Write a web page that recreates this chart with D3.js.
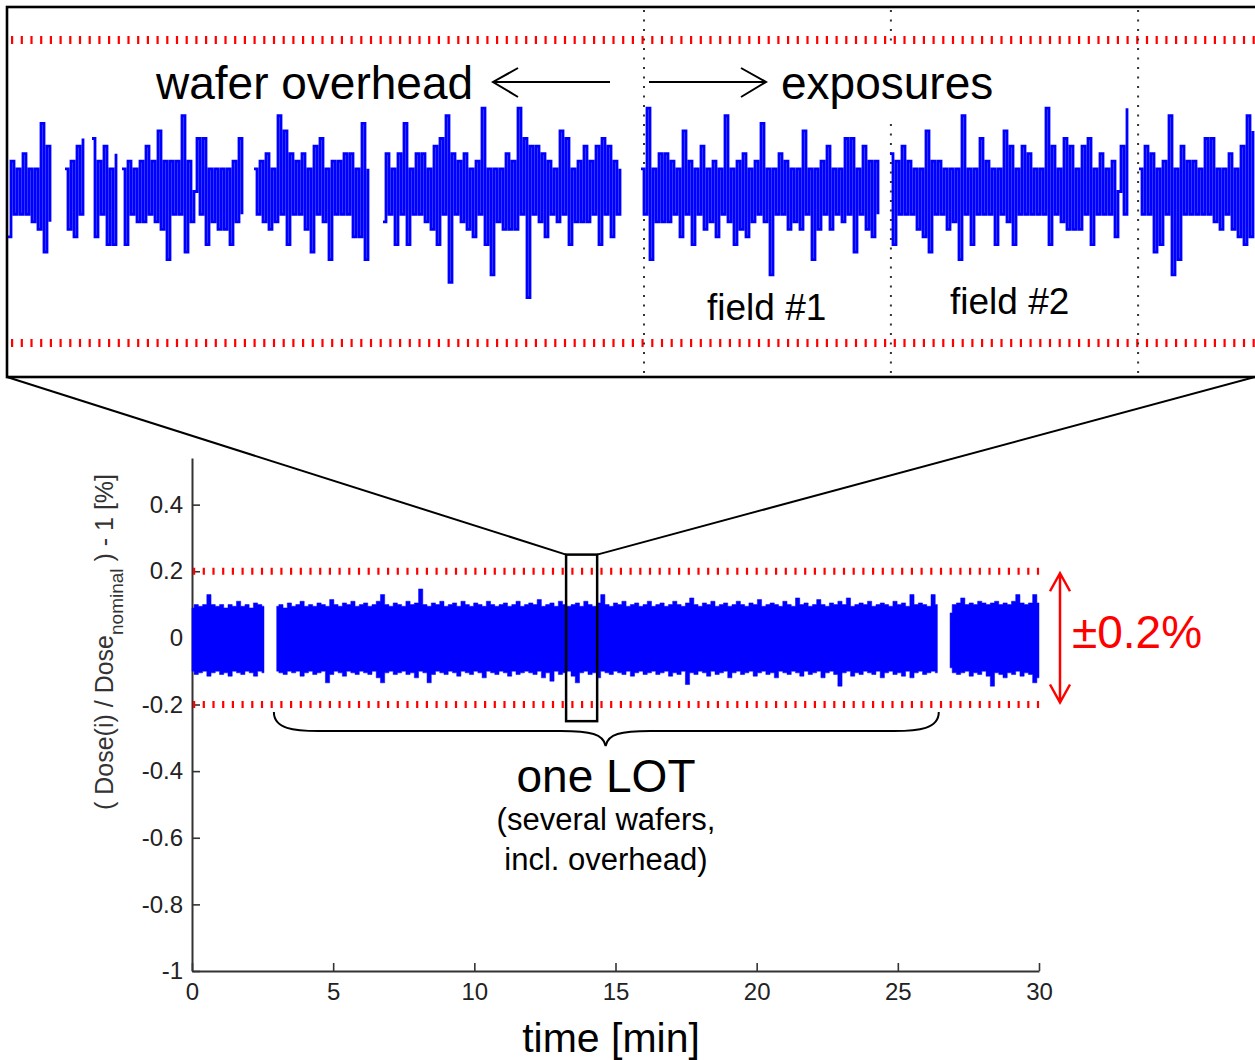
<!DOCTYPE html>
<html><head><meta charset="utf-8">
<script src="https://cdn.jsdelivr.net/npm/d3@7"></script>
<style>body{margin:0;background:#fff} svg{display:block} text{font-family:"Liberation Sans",Arial,Helvetica,sans-serif}</style>
</head><body>
<svg id="chart" width="1255" height="1060"></svg>
<script>
// ---------------- DATA ----------------
// Bottom plot: time axis (min) and dose deviation (%)
const xTicks = [0, 5, 10, 15, 20, 25, 30];
const xTickLabels = ["0", "5", "10", "15", "20", "25", "30"];
const yTicks = [-1, -0.8, -0.6, -0.4, -0.2, 0, 0.2, 0.4];
const yTickLabels = ["-1", "-0.8", "-0.6", "-0.4", "-0.2", "0", "0.2", "0.4"];
const toleranceLimits = [-0.2, 0.2];

// Envelope of the dense dose signal, one bin every 0.15 min, three bursts
const lotBinStep = 0.15;
const lotBurstStarts = [0, 3.0, 26.85];
const upperA = [0.09,0.1,0.095,0.1,0.13,0.1,0.095,0.1,0.09,0.1,0.095,0.11,0.095,0.1,0.09,0.105,0.1,0.095];
const lowerA = [-0.1,-0.11,-0.105,-0.1,-0.115,-0.105,-0.1,-0.11,-0.105,-0.115,-0.1,-0.105,-0.11,-0.1,-0.105,-0.115,-0.1,-0.105];
const upperB = [
 .095,.1,.09,.105,.095,.1,.11,.095,.1,.095,
 .105,.1,.095,.115,.1,.095,.105,.1,.11,.095,
 .1,.105,.095,.1,.11,.13,.1,.095,.105,.1,
 .095,.11,.1,.105,.147,.1,.095,.105,.1,.11,
 .095,.1,.105,.095,.11,.1,.095,.105,.1,.095,
 .11,.1,.095,.1,.105,.095,.1,.11,.095,.1,
 .105,.1,.115,.095,.1,.105,.095,.11,.1,.095,
 .1,.105,.095,.11,.1,.095,.105,.13,.1,.095,
 .105,.1,.11,.095,.1,.105,.095,.1,.11,.095,
 .1,.105,.095,.1,.11,.1,.095,.105,.12,.1,
 .095,.105,.1,.11,.095,.1,.105,.095,.1,.11,
 .1,.095,.105,.1,.115,.095,.1,.105,.1,.095,
 .11,.1,.095,.12,.1,.105,.095,.1,.115,.1,
 .095,.105,.1,.11,.1,.12,.095,.1,.105,.1,
 .11,.095,.1,.105,.1,.095,.11,.1,.105,.095,
 .13,.1,.105,.1,.095,.13,.1];
const lowerB = [
 -.1,-.105,-.11,-.1,-.105,-.1,-.115,-.105,-.1,-.11,
 -.105,-.1,-.135,-.11,-.1,-.105,-.115,-.1,-.105,-.11,
 -.1,-.105,-.11,-.1,-.12,-.135,-.105,-.1,-.11,-.105,
 -.1,-.11,-.105,-.12,-.1,-.105,-.135,-.11,-.1,-.105,
 -.11,-.1,-.105,-.115,-.1,-.105,-.11,-.1,-.105,-.12,
 -.1,-.105,-.11,-.1,-.105,-.115,-.1,-.11,-.105,-.1,
 -.105,-.11,-.1,-.12,-.105,-.13,-.1,-.11,-.105,-.1,
 -.115,-.135,-.105,-.1,-.11,-.105,-.12,-.1,-.105,-.11,
 -.1,-.105,-.11,-.1,-.115,-.105,-.1,-.11,-.105,-.1,
 -.11,-.105,-.1,-.115,-.105,-.11,-.1,-.14,-.105,-.11,
 -.1,-.105,-.115,-.1,-.11,-.105,-.1,-.12,-.105,-.1,
 -.11,-.105,-.1,-.115,-.105,-.1,-.11,-.105,-.12,-.1,
 -.105,-.11,-.1,-.105,-.115,-.1,-.11,-.105,-.1,-.12,
 -.105,-.1,-.11,-.145,-.105,-.1,-.115,-.105,-.11,-.1,
 -.105,-.11,-.1,-.12,-.105,-.1,-.11,-.105,-.115,-.1,
 -.12,-.105,-.1,-.11,-.105,-.1,-.105];
const upperC = [.075,.1,.105,.12,.1,.105,.1,.11,.105,.1,.105,.11,.1,.105,.1,.11,.13,.105,.1,.105,.13,.105];
const lowerC = [-.09,-.105,-.11,-.105,-.1,-.115,-.105,-.11,-.1,-.115,-.145,-.105,-.11,-.12,-.105,-.11,-.1,-.115,-.105,-.11,-.135,-.12];

// Zoomed window (min) shown in the top panel
const zoomWindow = [13.25, 14.35];

// Top panel: zoomed signal, sample index -> deviation (%), bursts separated by gaps
const zoomSampleCount = 415;
const zoomBurstStarts = [0, 19, 28, 38, 82, 125, 211, 294, 377];
const zoomBursts = [
 [-0.06,0.04,-0.03,0.03,-0.03,0.05,-0.03,0.03,-0.04,0.03,-0.05,0.09,-0.08,0.06,-0.04],
 [0.03,-0.05,0.04,-0.06,0.06,-0.03,0.07],
 [0.07,-0.06,0.04,-0.03,0.06,-0.07,0.03,-0.07,0.05],
 [0.03,-0.07,0.04,-0.03,0.03,-0.04,0.04,-0.04,0.06,-0.03,0.04,-0.04,0.08,-0.05,0.04,-0.09,0.04,-0.03,0.04,-0.03,
  0.10,-0.08,0.04,-0.04,0.0,0.07,-0.03,0.07,-0.07,0.03,-0.04,0.03,-0.05,0.03,-0.05,0.03,-0.07,0.04,-0.04,0.07,-0.03],
 [0.03,-0.03,0.04,-0.04,0.05,-0.05,0.03,-0.04,0.10,-0.03,0.08,-0.07,0.05,-0.03,0.04,-0.03,0.05,-0.05,0.03,-0.08,
  0.06,-0.03,0.07,-0.04,0.03,-0.09,0.04,-0.03,0.04,-0.03,0.05,-0.03,0.05,-0.06,0.03,-0.06,0.09,-0.09,0.03],
 [-0.04,0.05,-0.03,0.03,-0.07,0.05,-0.03,0.09,-0.07,0.03,
  -0.03,0.05,-0.03,0.05,-0.04,0.03,-0.05,0.06,-0.07,0.07,
  -0.03,0.10,-0.12,0.05,-0.03,0.04,-0.04,0.05,-0.05,0.03,
  -0.06,0.04,-0.03,0.11,-0.07,0.03,-0.11,0.03,-0.04,0.03,
  -0.05,0.05,-0.05,0.04,-0.05,0.11,-0.03,0.07,-0.14,0.06,
  -0.03,0.06,-0.04,0.05,-0.06,0.04,-0.03,0.03,-0.04,0.08,
  -0.03,0.07,-0.07,0.03,-0.04,0.04,-0.04,0.06,-0.04,0.04,
  -0.03,0.06,-0.07,0.07,-0.03,0.06,-0.06,0.04,-0.03,0.03],
 [0.03,-0.03,0.11,-0.09,0.03,-0.04,0.05,-0.04,0.05,-0.04,
  0.04,-0.03,0.03,-0.06,0.08,-0.03,0.04,-0.07,0.03,-0.03,
  0.06,-0.05,0.03,-0.04,0.04,-0.06,0.03,-0.03,0.10,-0.04,
  0.03,-0.07,0.04,-0.05,0.05,-0.06,0.03,-0.04,0.04,-0.03,
  0.09,-0.04,0.03,-0.11,0.03,-0.03,0.05,-0.03,0.04,-0.05,
  0.03,-0.04,0.03,-0.05,0.08,-0.03,0.03,-0.09,0.03,-0.05,
  0.04,-0.03,0.06,-0.05,0.03,-0.03,0.03,-0.04,0.07,-0.03,
  0.07,-0.08,0.03,-0.03,0.06,-0.05,0.04,-0.06,0.04,-0.03],
 [0.05,-0.07,0.04,-0.03,0.06,-0.03,0.04,-0.03,0.03,-0.05,
  0.03,-0.06,0.08,-0.08,0.04,-0.03,0.04,-0.03,0.03,-0.05,
  0.03,-0.04,0.03,-0.09,0.10,-0.03,0.03,-0.07,0.03,-0.03,
  0.07,-0.03,0.04,-0.03,0.03,-0.07,0.03,-0.03,0.08,-0.04,
  0.06,-0.07,0.03,-0.03,0.06,-0.03,0.05,-0.03,0.03,-0.03,
  0.03,-0.03,0.11,-0.07,0.06,-0.03,0.03,-0.04,0.07,-0.05,
  0.06,-0.05,0.03,-0.05,0.06,-0.03,0.07,-0.07,0.03,-0.03,
  0.05,-0.03,0.03,-0.03,0.04,-0.06,0.0,0.06,-0.03,0.11],
 [0.03,-0.03,0.06,-0.03,0.05,-0.08,0.03,-0.07,0.04,-0.03,
  0.10,-0.11,0.03,-0.09,0.06,-0.03,0.04,-0.03,0.04,-0.03,
  0.03,-0.03,0.07,-0.03,0.07,-0.04,0.03,-0.05,0.03,-0.03,
  0.05,-0.05,0.03,-0.06,0.06,-0.07,0.10,-0.06,0.08]
];
const fieldBoundaries = [212, 294.3, 376.7]; // sample positions of the dotted separators

// ---------------- DRAWING ----------------
const svg = d3.select("#chart");
const BLUE = "#0000ff", RED = "#ff0000", AXIS = "#333";

// ===== bottom plot =====
const x = d3.scaleLinear().domain([0, 30]).range([192, 1039]);
const y = d3.scaleLinear().domain([-1, 0.54]).range([971, 458]);

const yAxis = d3.axisLeft(y).tickValues(yTicks).tickFormat((d, i) => yTickLabels[i])
  .tickSizeInner(-8).tickSizeOuter(0).tickPadding(9);
const xAxis = d3.axisBottom(x).tickValues(xTicks).tickFormat((d, i) => xTickLabels[i])
  .tickSizeInner(-8).tickSizeOuter(0).tickPadding(12);

const gy = svg.append("g").attr("transform", `translate(${x(0)},0)`).call(yAxis);
const gx = svg.append("g").attr("transform", `translate(0,${y(-1)})`).call(xAxis);
[gx, gy].forEach(g => {
  g.select(".domain").attr("stroke", AXIS).attr("stroke-width", 2);
  g.selectAll(".tick line").attr("stroke", AXIS).attr("stroke-width", 1.6);
  g.selectAll(".tick text").attr("fill", "#222").style("font-size", "24px")
    .style("font-family", '"Liberation Sans",Arial,sans-serif');
});

// tolerance lines (bottom)
toleranceLimits.forEach(v => {
  svg.append("line").attr("x1", x(0) + 1).attr("x2", x(30) + 1).attr("y1", y(v)).attr("y2", y(v))
    .attr("stroke", RED).attr("stroke-width", 7).attr("stroke-dasharray", "2.2,7.5");
});

// dense signal band
const lotBursts = [[upperA, lowerA], [upperB, lowerB], [upperC, lowerC]];
const area = d3.area().curve(d3.curveStep)
  .x(d => x(d.t)).y0(d => y(d.lo)).y1(d => y(d.hi));
lotBursts.forEach(([up, lo], b) => {
  const data = up.map((v, k) => ({ t: lotBurstStarts[b] + k * lotBinStep, hi: v, lo: lo[k] }));
  svg.append("path").datum(data).attr("d", area).attr("fill", BLUE)
    .attr("stroke", BLUE).attr("stroke-width", 0.5);
});

// zoom box
const bx0 = x(zoomWindow[0]), bx1 = x(zoomWindow[1]), by0 = y(0.25), by1 = y(-0.25);
svg.append("rect").attr("x", bx0).attr("y", by0).attr("width", bx1 - bx0).attr("height", by1 - by0)
  .attr("fill", "none").attr("stroke", "#000").attr("stroke-width", 2.5);

// ===== top panel =====
const xz = d3.scaleLinear().domain([0, zoomSampleCount]).range([8, 1253]);
const yz = d3.scaleLinear().domain([-0.2, 0.2]).range([343, 40]);
const frame = { x0: 7, y0: 7, x1: 1257, y1: 377 };

// connectors
svg.append("line").attr("x1", frame.x0).attr("y1", frame.y1).attr("x2", bx0).attr("y2", by0)
  .attr("stroke", "#000").attr("stroke-width", 2);
svg.append("line").attr("x1", 1255).attr("y1", frame.y1).attr("x2", bx1).attr("y2", by0)
  .attr("stroke", "#000").attr("stroke-width", 2);

svg.append("rect").attr("x", frame.x0).attr("y", frame.y0)
  .attr("width", frame.x1 - frame.x0).attr("height", frame.y1 - frame.y0)
  .attr("fill", "#fff").attr("stroke", "#000").attr("stroke-width", 2.6);

// tolerance lines (top)
toleranceLimits.forEach(v => {
  svg.append("line").attr("x1", 11).attr("x2", 1255).attr("y1", yz(v)).attr("y2", yz(v))
    .attr("stroke", RED).attr("stroke-width", 8).attr("stroke-dasharray", "2.2,7.5");
});

// dotted field separators
fieldBoundaries.forEach(s => {
  svg.append("line").attr("x1", xz(s)).attr("x2", xz(s)).attr("y1", 10).attr("y2", 376)
    .attr("stroke", "#333").attr("stroke-width", 2).attr("stroke-dasharray", "2,7.5");
});

// "exposures" label with white background (hides separator)
const expoBg = svg.append("rect").attr("fill", "#fff");
const expoText = svg.append("text").attr("x", 781).attr("y", 99).style("font-size", "46px")
  .attr("fill", "#000").text("exposures");
const eb = expoText.node().getBBox();
expoBg.attr("x", eb.x - 4).attr("y", 45).attr("width", eb.width + 8).attr("height", 121 - 45);

// zoomed signal
const zline = d3.line().curve(d3.curveStepAfter).x(d => xz(d[0])).y(d => yz(d[1]));
zoomBursts.forEach((vals, b) => {
  const data = vals.map((v, k) => [zoomBurstStarts[b] + k, v]);
  svg.append("path").datum(data).attr("d", zline).attr("fill", "none")
    .attr("stroke", BLUE).attr("stroke-width", 2.8).attr("stroke-linejoin", "miter");
});
expoText.raise();

// top annotations
svg.append("text").attr("x", 156).attr("y", 99).style("font-size", "46px").text("wafer overhead");
const arrowG = svg.append("g").attr("stroke", "#000").attr("stroke-width", 2).attr("fill", "none");
arrowG.append("path").attr("d", "M610,82 H493 M518,68 L493,82 L518,97");
arrowG.append("path").attr("d", "M649,82 H766 M741,68 L766,82 L741,97");
svg.append("text").attr("x", 707).attr("y", 320).style("font-size", "37px").text("field #1");
svg.append("text").attr("x", 950).attr("y", 314).style("font-size", "37px").text("field #2");

// ===== bottom annotations =====
// brace
const bL = x(2.9), bR = x(26.45), bM = x(14.65), bt = 712, bb = 731, tip = 746;
svg.append("path").attr("fill", "none").attr("stroke", "#000").attr("stroke-width", 2)
  .attr("d", `M${bL},${bt} C${bL},${bb - 2} ${bL + 20},${bb} ${bL + 45},${bb} L${bM - 45},${bb}
   C${bM - 15},${bb} ${bM - 2},${bb + 3} ${bM},${tip} C${bM + 2},${bb + 3} ${bM + 15},${bb} ${bM + 45},${bb}
   L${bR - 45},${bb} C${bR - 20},${bb} ${bR},${bb - 2} ${bR},${bt}`);

svg.append("text").attr("x", 606).attr("y", 792).attr("text-anchor", "middle").style("font-size", "46px").text("one LOT");
svg.append("text").attr("x", 606).attr("y", 830).attr("text-anchor", "middle").style("font-size", "31px").text("(several wafers,");
svg.append("text").attr("x", 606).attr("y", 870).attr("text-anchor", "middle").style("font-size", "31px").text("incl. overhead)");

// red double arrow
const ax = 1060, ay0 = y(0.2) + 2, ay1 = y(-0.2) - 2;
svg.append("path").attr("fill", "none").attr("stroke", RED).attr("stroke-width", 2.5)
  .attr("d", `M${ax},${ay0} V${ay1} M${ax - 10},${ay0 + 18} L${ax},${ay0} L${ax + 10},${ay0 + 18} M${ax - 10},${ay1 - 18} L${ax},${ay1} L${ax + 10},${ay1 - 18}`);
svg.append("text").attr("x", 1072).attr("y", 648).attr("fill", RED).style("font-size", "46px").text("±0.2%");

// axis titles
const yl = svg.append("text").attr("transform", "translate(113,642) rotate(-90)")
  .attr("text-anchor", "middle").attr("xml:space", "preserve").attr("fill", "#333").style("font-size", "25px");
yl.append("tspan").text("( Dose(i) / Dose");
yl.append("tspan").attr("dy", 10).style("font-size", "19px").text("nominal");
yl.append("tspan").attr("dy", -10).text(" ) - 1 [%]");

svg.append("text").attr("x", 611).attr("y", 1052).attr("text-anchor", "middle").style("font-size", "41px").text("time [min]");
</script>
</body></html>
